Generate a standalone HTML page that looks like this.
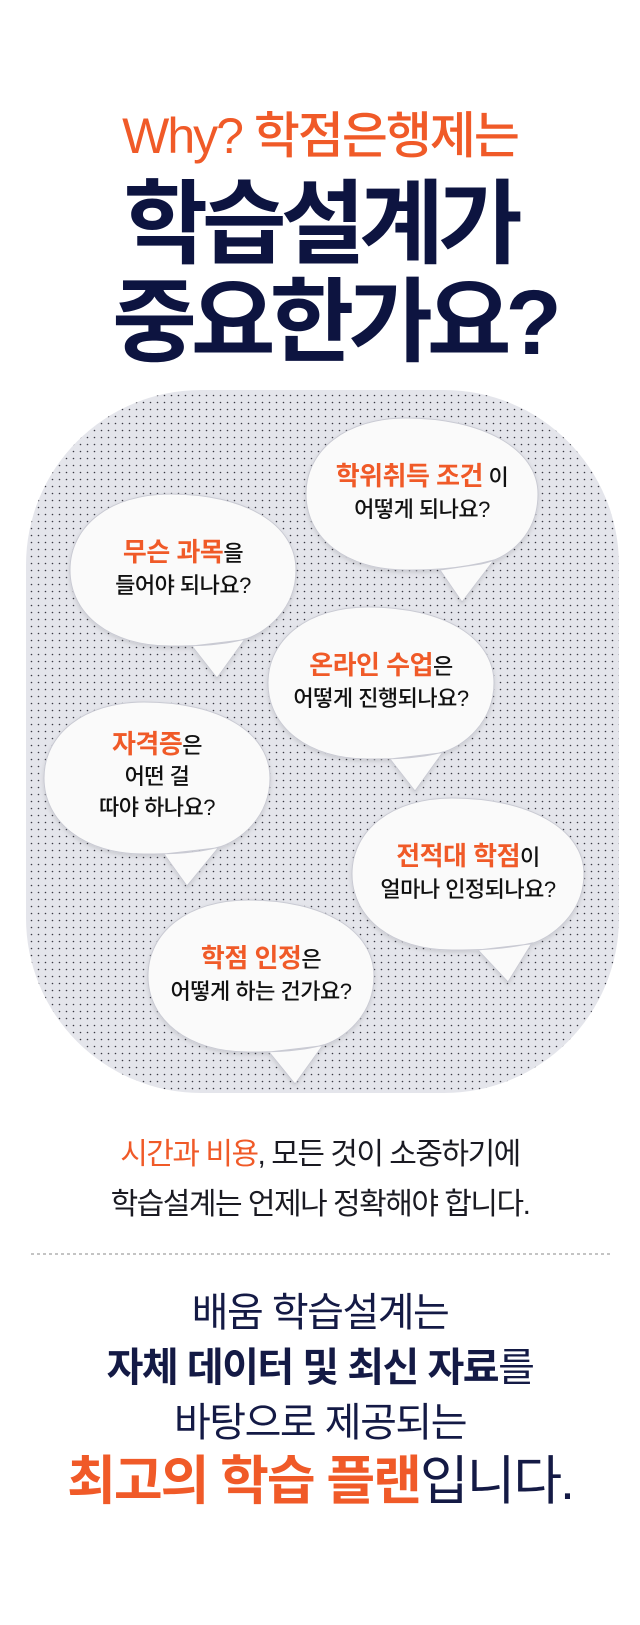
<!DOCTYPE html>
<html><head><meta charset="utf-8">
<style>
html,body{margin:0;padding:0;background:#fff;}
body{width:640px;height:1625px;position:relative;overflow:hidden;font-family:"Liberation Sans","Noto Sans CJK KR",sans-serif;}
.t{position:absolute;left:0;width:640px;text-align:center;white-space:nowrap;}
.bt{position:absolute;text-align:center;white-space:nowrap;color:#111;font-size:22px;line-height:32px;font-weight:500;letter-spacing:-0.5px;}
.o{color:#f05a28;font-weight:700;font-size:26px;}
</style></head><body>
<div class="t" style="top:106px;font-size:50px;line-height:60px;color:#f05a28;font-weight:500;letter-spacing:-2px;">Why? 학점은행제는</div>
<div class="t" style="top:170px;font-size:92px;line-height:110px;color:#0d1440;font-weight:700;letter-spacing:-6px;">학습설계가</div>
<div class="t" style="top:268px;font-size:92px;line-height:110px;color:#0d1440;font-weight:700;letter-spacing:-6px;padding-left:14px;">중요한가요?</div>

<svg style="position:absolute;left:0;top:0" width="640" height="1625">
<defs>
<pattern id="d" width="7" height="7" patternUnits="userSpaceOnUse"><rect width="7" height="7" fill="#e4e5eb"/><circle cx="3.5" cy="3.5" r="0.8" fill="#3a3a44"/></pattern>
<filter id="s2" x="-10%" y="-10%" width="120%" height="130%"><feDropShadow dx="0" dy="2" stdDeviation="2" flood-color="#000" flood-opacity="0.12"/></filter>
</defs>
<rect x="26" y="390" width="593" height="703" rx="175" ry="175" fill="url(#d)"/>
<line x1="31" y1="1254" x2="611" y2="1254" stroke="#888" stroke-width="1" stroke-dasharray="3,3"/>
<g fill="#fafafa" stroke="#c9cad3" stroke-width="1" filter="url(#s2)">
<path transform="translate(306,418)" d="M100 0 C175 0 232 30 232 76 C232 115 205 140 175 146 L134 152 L156 184 L188 142 C150 152 120 152 100 152 C40 152 0 120 0 76 C0 32 40 0 100 0 Z"/>
<path transform="translate(70,494)" d="M100 0 C175 0 226 30 226 76 C226 115 196 140 172 146 L122 152 L147 184 L175 145 C150 152 120 152 100 152 C40 152 0 120 0 76 C0 32 40 0 100 0 Z"/>
<path transform="translate(268,607)" d="M100 0 C175 0 226 30 226 76 C226 115 196 140 172 146 L122 152 L147 184 L175 145 C150 152 120 152 100 152 C40 152 0 120 0 76 C0 32 40 0 100 0 Z"/>
<path transform="translate(44,702)" d="M100 0 C175 0 226 30 226 76 C226 115 196 140 172 146 L120 152 L143 184 L175 145 C150 152 120 152 100 152 C40 152 0 120 0 76 C0 32 40 0 100 0 Z"/>
<path transform="translate(352,798)" d="M100 0 C175 0 232 30 232 76 C232 115 200 140 178 146 L126 152 L156 184 L180 145 C150 152 120 152 100 152 C40 152 0 120 0 76 C0 32 40 0 100 0 Z"/>
<path transform="translate(148,900)" d="M100 0 C175 0 226 30 226 76 C226 115 196 140 172 146 L121 152 L147 184 L175 145 C150 152 120 152 100 152 C40 152 0 120 0 76 C0 32 40 0 100 0 Z"/>
</g>
</svg>

<div class="bt" style="left:306px;width:232px;top:460px;"><span class="o">학위취득 조건</span> 이<br>어떻게 되나요?</div>
<div class="bt" style="left:70px;width:226px;top:536px;"><span class="o">무슨 과목</span>을<br>들어야 되나요?</div>
<div class="bt" style="left:268px;width:226px;top:649px;"><span class="o">온라인 수업</span>은<br>어떻게 진행되나요?</div>
<div class="bt" style="left:44px;width:226px;top:729px;line-height:31px;"><span class="o">자격증</span>은<br>어떤 걸<br>따야 하나요?</div>
<div class="bt" style="left:352px;width:232px;top:840px;"><span class="o">전적대 학점</span>이<br>얼마나 인정되나요?</div>
<div class="bt" style="left:148px;width:226px;top:942px;"><span class="o">학점 인정</span>은<br>어떻게 하는 건가요?</div>

<div class="t" style="top:1130px;font-size:30px;line-height:50px;color:#1a1a22;letter-spacing:-1.5px;"><span style="color:#f05a28">시간과 비용</span>, 모든 것이 소중하기에<br>학습설계는 언제나 정확해야 합니다.</div>

<div class="t" style="top:1286px;font-size:40px;line-height:55px;color:#141a45;letter-spacing:-1.5px;">배움 학습설계는<br><b>자체 데이터 및 최신 자료</b>를<br>바탕으로 제공되는</div>
<div class="t" style="top:1450px;font-size:53px;line-height:64px;color:#141a45;letter-spacing:-2px;"><b style="color:#f05a28">최고의 학습 플랜</b>입니다.</div>
</body></html>
